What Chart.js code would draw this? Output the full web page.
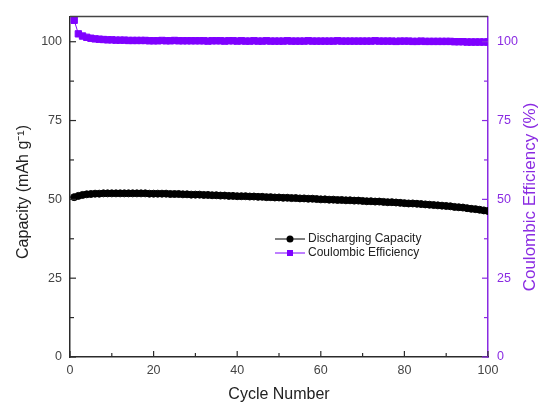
<!DOCTYPE html>
<html>
<head>
<meta charset="utf-8">
<script src="https://cdn.jsdelivr.net/npm/chart.js@4"></script>
<style>
  html, body { margin: 0; padding: 0; background: #fff; }
  #wrap { width: 540px; height: 406px; }
</style>
</head>
<body>
<div id="wrap"><canvas id="chart" width="540" height="406"></canvas></div>
<script>
const cycles = [
    1, 2, 3, 4, 5, 6, 7, 8, 9, 10,
    11, 12, 13, 14, 15, 16, 17, 18, 19, 20,
    21, 22, 23, 24, 25, 26, 27, 28, 29, 30,
    31, 32, 33, 34, 35, 36, 37, 38, 39, 40,
    41, 42, 43, 44, 45, 46, 47, 48, 49, 50,
    51, 52, 53, 54, 55, 56, 57, 58, 59, 60,
    61, 62, 63, 64, 65, 66, 67, 68, 69, 70,
    71, 72, 73, 74, 75, 76, 77, 78, 79, 80,
    81, 82, 83, 84, 85, 86, 87, 88, 89, 90,
    91, 92, 93, 94, 95, 96, 97, 98, 99, 100
];

const capacity = [
    50.7, 51.1, 51.4, 51.6, 51.7, 51.8, 51.8, 51.9, 51.9, 51.9,
    51.9, 51.9, 51.9, 51.9, 51.9, 51.9, 51.9, 51.9, 51.8, 51.8,
    51.8, 51.8, 51.8, 51.7, 51.7, 51.7, 51.6, 51.6, 51.5, 51.5,
    51.5, 51.4, 51.4, 51.3, 51.3, 51.2, 51.2, 51.1, 51.1, 51.0,
    51.0, 51.0, 50.9, 50.9, 50.8, 50.8, 50.7, 50.7, 50.6, 50.6,
    50.5, 50.5, 50.4, 50.4, 50.3, 50.3, 50.2, 50.2, 50.1, 50.0,
    50.0, 49.9, 49.9, 49.8, 49.8, 49.7, 49.7, 49.6, 49.6, 49.5,
    49.4, 49.4, 49.3, 49.3, 49.2, 49.1, 49.1, 49.0, 48.9, 48.8,
    48.7, 48.7, 48.6, 48.5, 48.4, 48.3, 48.2, 48.1, 48.0, 47.9,
    47.8, 47.6, 47.5, 47.4, 47.2, 47.0, 46.9, 46.7, 46.5, 46.3
];

const efficiency = [
    106.8, 102.5, 101.8, 101.4, 101.1, 100.9, 100.8, 100.7, 100.6, 100.6,
    100.5, 100.5, 100.5, 100.4, 100.4, 100.4, 100.4, 100.4, 100.3, 100.3,
    100.3, 100.4, 100.3, 100.3, 100.4, 100.3, 100.3, 100.3, 100.3, 100.3,
    100.3, 100.3, 100.2, 100.3, 100.3, 100.3, 100.2, 100.3, 100.3, 100.2,
    100.3, 100.2, 100.2, 100.3, 100.2, 100.2, 100.3, 100.2, 100.2, 100.2,
    100.2, 100.3, 100.2, 100.2, 100.2, 100.2, 100.3, 100.2, 100.2, 100.2,
    100.2, 100.2, 100.2, 100.3, 100.2, 100.2, 100.2, 100.2, 100.2, 100.2,
    100.2, 100.2, 100.3, 100.2, 100.2, 100.2, 100.2, 100.1, 100.2, 100.2,
    100.2, 100.1, 100.1, 100.2, 100.1, 100.1, 100.1, 100.1, 100.1, 100.1,
    100.1, 100.0, 100.0, 100.0, 99.9, 99.9, 99.9, 99.9, 99.9, 99.9
];

const xTicks = [0, 10, 20, 30, 40, 50, 60, 70, 80, 90, 100];
const yTicks = [0, 12.5, 25, 37.5, 50, 62.5, 75, 87.5, 100];

const DARK = '#2b2b2b';
const PURPLE = '#8a2be2';
const MARK_PURPLE = '#7f00ff';
const FONT = '"Liberation Sans", Arial, sans-serif';

function isMajorX(v) { return v % 20 === 0; }
function isMajorY(v) { return v % 25 === 0; }

// ticks, titles, top frame and legend
const decorations = {
    id: 'decorations',
    afterDraw(chart) {
        const ctx = chart.ctx;
        const area = chart.chartArea;
        const sx = chart.scales.x;
        const sy = chart.scales.y;
        const sy2 = chart.scales.y2;
        ctx.save();

        // top frame
        ctx.strokeStyle = '#444';
        ctx.lineWidth = 1.5;
        ctx.beginPath();
        ctx.moveTo(area.left, area.top);
        ctx.lineTo(area.right, area.top);
        ctx.stroke();

        // inward tick marks
        ctx.lineWidth = 1.2;
        ctx.strokeStyle = DARK;
        xTicks.forEach(v => {
            const px = sx.getPixelForValue(v);
            const len = isMajorX(v) ? 6 : 4;
            ctx.beginPath();
            ctx.moveTo(px, area.bottom);
            ctx.lineTo(px, area.bottom - len);
            ctx.stroke();
        });
        yTicks.forEach(v => {
            const py = sy.getPixelForValue(v);
            const len = isMajorY(v) ? 6 : 4;
            ctx.beginPath();
            ctx.moveTo(area.left, py);
            ctx.lineTo(area.left + len, py);
            ctx.stroke();
        });
        ctx.strokeStyle = PURPLE;
        yTicks.forEach(v => {
            const py = sy2.getPixelForValue(v);
            const len = isMajorY(v) ? 6 : 4;
            ctx.beginPath();
            ctx.moveTo(area.right, py);
            ctx.lineTo(area.right - len, py);
            ctx.stroke();
        });

        // axis titles
        ctx.fillStyle = '#222';
        ctx.font = '16px ' + FONT;
        ctx.textAlign = 'center';
        ctx.textBaseline = 'middle';
        ctx.fillText('Cycle Number', (area.left + area.right) / 2, 395);

        ctx.save();
        ctx.translate(24, 192);
        ctx.rotate(-Math.PI / 2);
        ctx.fillText('Capacity (mAh g\u207B\u00B9)', 0, 0);
        ctx.restore();

        ctx.save();
        ctx.fillStyle = PURPLE;
        ctx.font = '17px ' + FONT;
        ctx.translate(530, 197);
        ctx.rotate(-Math.PI / 2);
        ctx.fillText('Coulombic Efficiency (%)', 0, 0);
        ctx.restore();

        // legend
        const rows = [
            { ds: chart.data.datasets[0], y: 239 },
            { ds: chart.data.datasets[1], y: 253 }
        ];
        ctx.font = '12px ' + FONT;
        ctx.textAlign = 'left';
        rows.forEach(r => {
            ctx.strokeStyle = r.ds.borderColor;
            ctx.lineWidth = 1;
            ctx.beginPath();
            ctx.moveTo(275, r.y);
            ctx.lineTo(305, r.y);
            ctx.stroke();
            ctx.fillStyle = r.ds.pointBackgroundColor;
            if (r.ds.pointStyle === 'rect') {
                ctx.fillRect(287, r.y - 3, 6, 6);
            } else {
                ctx.beginPath();
                ctx.arc(290, r.y, 3.5, 0, Math.PI * 2);
                ctx.fill();
            }
            ctx.fillStyle = '#222';
            ctx.fillText(r.ds.label, 308, r.y);
        });

        ctx.restore();
    }
};

const ctx = document.getElementById('chart').getContext('2d');

new Chart(ctx, {
    type: 'line',
    data: {
        labels: cycles,
        datasets: [
            {
                label: 'Discharging Capacity',
                data: cycles.map((c, i) => ({ x: c, y: capacity[i] })),
                yAxisID: 'y',
                borderColor: '#000',
                backgroundColor: '#000',
                pointBackgroundColor: '#000',
                pointBorderColor: '#000',
                pointStyle: 'circle',
                pointRadius: 3.5,
                borderWidth: 1
            },
            {
                label: 'Coulombic Efficiency',
                data: cycles.map((c, i) => ({ x: c, y: efficiency[i] })),
                yAxisID: 'y2',
                borderColor: MARK_PURPLE,
                backgroundColor: MARK_PURPLE,
                pointBackgroundColor: MARK_PURPLE,
                pointBorderColor: MARK_PURPLE,
                pointStyle: 'rect',
                pointRadius: 4.5,
                borderWidth: 1
            }
        ]
    },
    options: {
        responsive: false,
        animation: false,
        layout: { padding: { top: 16, left: 0, right: 0, bottom: 0 } },
        plugins: {
            legend: { display: false },
            tooltip: { enabled: false }
        },
        scales: {
            x: {
                type: 'linear',
                min: 0,
                max: 100,
                afterFit(scale) { scale.height = 49; },
                afterBuildTicks(scale) { scale.ticks = xTicks.map(v => ({ value: v })); },
                grid: { display: false, tickLength: 0 },
                border: { display: true, color: DARK, width: 1.5 },
                ticks: {
                    padding: 6,
                    maxRotation: 0,
                    autoSkip: false,
                    color: '#444',
                    font: { family: FONT, size: 12.5 },
                    callback: v => isMajorX(v) ? v : ''
                }
            },
            y: {
                position: 'left',
                min: 0,
                max: 108,
                afterFit(scale) { scale.width = 70; },
                afterBuildTicks(scale) { scale.ticks = yTicks.map(v => ({ value: v })); },
                grid: { display: false, tickLength: 0 },
                border: { display: true, color: DARK, width: 1.5 },
                ticks: {
                    padding: 8,
                    autoSkip: false,
                    color: '#444',
                    font: { family: FONT, size: 12.5 },
                    callback: v => isMajorY(v) ? v : ''
                }
            },
            y2: {
                position: 'right',
                min: 0,
                max: 108,
                afterFit(scale) { scale.width = 52; },
                afterBuildTicks(scale) { scale.ticks = yTicks.map(v => ({ value: v })); },
                grid: { display: false, tickLength: 0 },
                border: { display: true, color: PURPLE, width: 1.5 },
                ticks: {
                    padding: 9,
                    autoSkip: false,
                    color: PURPLE,
                    font: { family: FONT, size: 12.5 },
                    callback: v => isMajorY(v) ? v : ''
                }
            }
        }
    },
    plugins: [decorations]
});
</script>
</body>
</html>
